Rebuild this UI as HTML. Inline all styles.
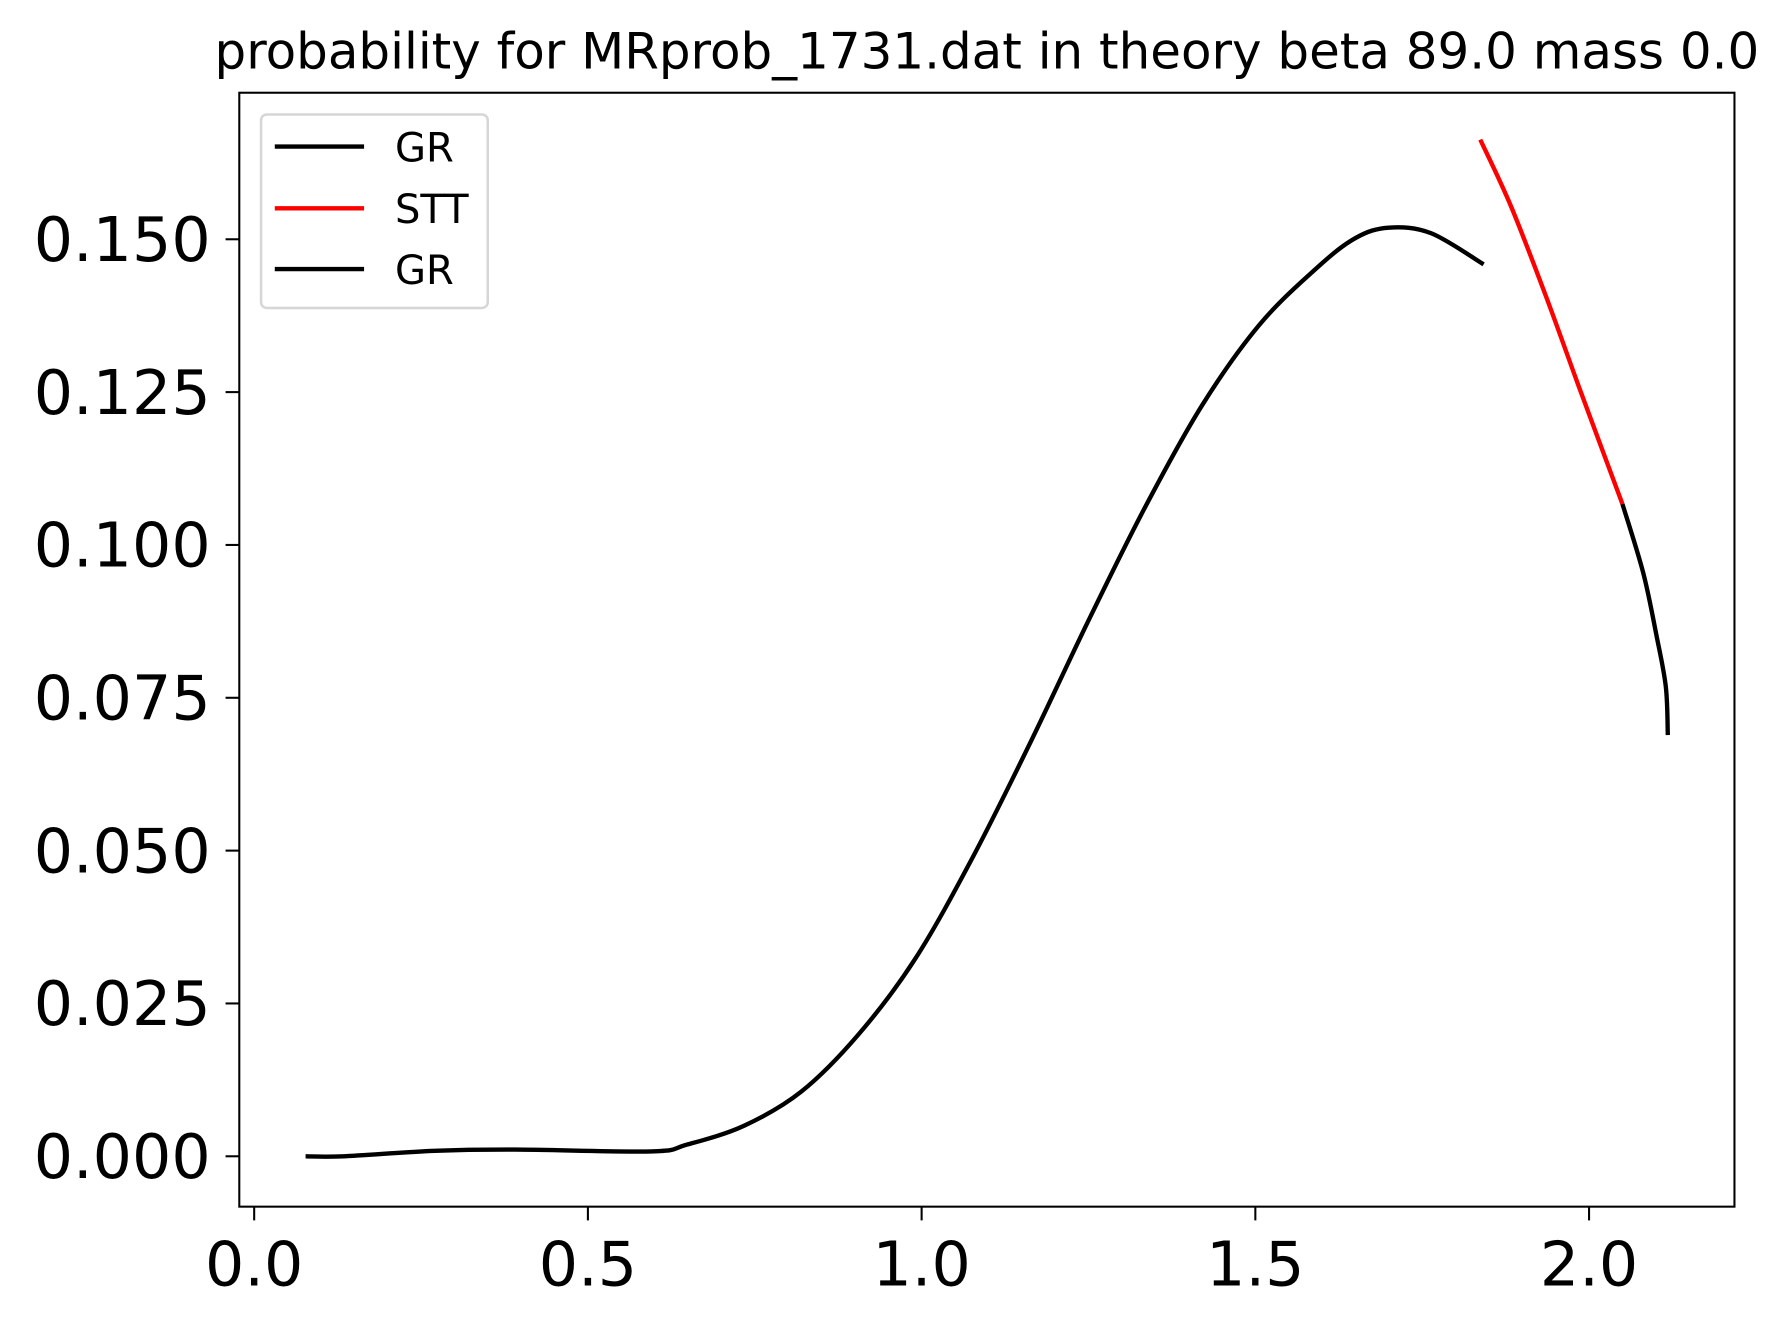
<!DOCTYPE html>
<html><head><meta charset="utf-8"><style>
html,body{margin:0;padding:0;background:#fff;}
svg{display:block;font-family:"DejaVu Sans","Liberation Sans",sans-serif;}
</style></head><body>
<svg id="chart" width="1786" height="1320" viewBox="0 0 1560 1153">
<rect width="1560" height="1153" fill="#fff"/>
<text x="862" y="60" font-size="43.6" text-anchor="middle">probability for MRprob_1731.dat in theory beta 89.0 mass 0.0</text>
<g id="ticks"></g>
<g id="series"></g>
<rect x="209" y="81" width="1306" height="973" fill="none" stroke="#000" stroke-width="1.8"/>
<g>
<rect x="228" y="100" width="198" height="169" rx="5" fill="#fff" fill-opacity="0.8" stroke="#d6d6d6" stroke-width="2.2"/>
<line x1="240" y1="128" x2="318" y2="128" stroke="#000" stroke-width="3.8"/>
<text x="345" y="141" font-size="35">GR</text>
<line x1="240" y1="182" x2="318" y2="182" stroke="#f00" stroke-width="3.8"/>
<text x="345" y="195" font-size="35">STT</text>
<line x1="240" y1="235" x2="318" y2="235" stroke="#000" stroke-width="3.8"/>
<text x="345" y="248" font-size="35">GR</text>
</g>
</svg>
<script>
const xTicks = [0.0, 0.5, 1.0, 1.5, 2.0];
const xTickLabels = ["0.0", "0.5", "1.0", "1.5", "2.0"];
const yTicks = [0, 0.025, 0.05, 0.075, 0.1, 0.125, 0.15];
const yTickLabels = ["0.000", "0.025", "0.050", "0.075", "0.100", "0.125", "0.150"];
const gr1X = [0.077,0.134,0.271,0.391,0.595,0.648,0.734,0.820,0.906,0.991,1.077,1.163,1.249,1.334,1.420,1.506,1.592,1.650,1.700,1.763,1.842];
const gr1Y = [0,0,0.0009,0.0011,0.0008,0.0019,0.0050,0.0106,0.0200,0.0324,0.0490,0.0677,0.0874,0.1060,0.1228,0.1360,0.1453,0.1502,0.1519,0.1510,0.1459];
const sttX = [1.837,1.883,1.935,1.986,2.021,2.050];
const sttY = [0.1663,0.1554,0.1408,0.1255,0.1152,0.1067];
const gr2X = [2.050,2.081,2.101,2.115,2.118];
const gr2Y = [0.1067,0.0955,0.0852,0.0768,0.0689];

const NS = "http://www.w3.org/2000/svg";
function sx(v){ return 222 + v * 583; }
function sy(v){ return 1010 - v * 5340; }
const tg = document.getElementById("ticks");
xTicks.forEach((t, i) => {
  const l = document.createElementNS(NS, "line");
  l.setAttribute("x1", sx(t)); l.setAttribute("x2", sx(t));
  l.setAttribute("y1", 1054); l.setAttribute("y2", 1066);
  l.setAttribute("stroke", "#000"); l.setAttribute("stroke-width", "1.8");
  
  
  tg.appendChild(l);
  const tx = document.createElementNS(NS, "text");
  tx.setAttribute("x", sx(t)); tx.setAttribute("y", 1123);
  tx.setAttribute("font-size", "54"); tx.setAttribute("text-anchor", "middle");
  tx.textContent = xTickLabels[i];
  
  
  tg.appendChild(tx);
});
yTicks.forEach((t, i) => {
  const l = document.createElementNS(NS, "line");
  l.setAttribute("x1", 197); l.setAttribute("x2", 209);
  l.setAttribute("y1", sy(t)); l.setAttribute("y2", sy(t));
  l.setAttribute("stroke", "#000"); l.setAttribute("stroke-width", "1.8");
  
  
  tg.appendChild(l);
  const tx = document.createElementNS(NS, "text");
  tx.setAttribute("x", 184); tx.setAttribute("y", sy(t) + 19);
  tx.setAttribute("font-size", "54"); tx.setAttribute("text-anchor", "end");
  tx.textContent = yTickLabels[i];
  
  
  tg.appendChild(tx);
});
function smoothPath(xs, ys){
  const p = xs.map((x, i) => [sx(x), sy(ys[i])]);
  let d = "M" + p[0][0] + "," + p[0][1];
  for (let i = 0; i < p.length - 1; i++) {
    const p0 = p[Math.max(0, i - 1)], p1 = p[i], p2 = p[i + 1], p3 = p[Math.min(p.length - 1, i + 2)];
    const c1x = p1[0] + (p2[0] - p0[0]) / 6, c1y = p1[1] + (p2[1] - p0[1]) / 6;
    const c2x = p2[0] - (p3[0] - p1[0]) / 6, c2y = p2[1] - (p3[1] - p1[1]) / 6;
    d += " C" + c1x + "," + c1y + " " + c2x + "," + c2y + " " + p2[0] + "," + p2[1];
  }
  return d;
}
const sg = document.getElementById("series");
[[gr1X, gr1Y, "#000", "gr-line-1"], [sttX, sttY, "#f00", "stt-line"], [gr2X, gr2Y, "#000", "gr-line-2"]].forEach(s => {
  const path = document.createElementNS(NS, "path");
  path.setAttribute("d", smoothPath(s[0], s[1]));
  path.setAttribute("fill", "none");
  path.setAttribute("stroke", s[2]);
  path.setAttribute("stroke-width", "3.8");
  
  
  sg.appendChild(path);
});
</script>
</body></html>
